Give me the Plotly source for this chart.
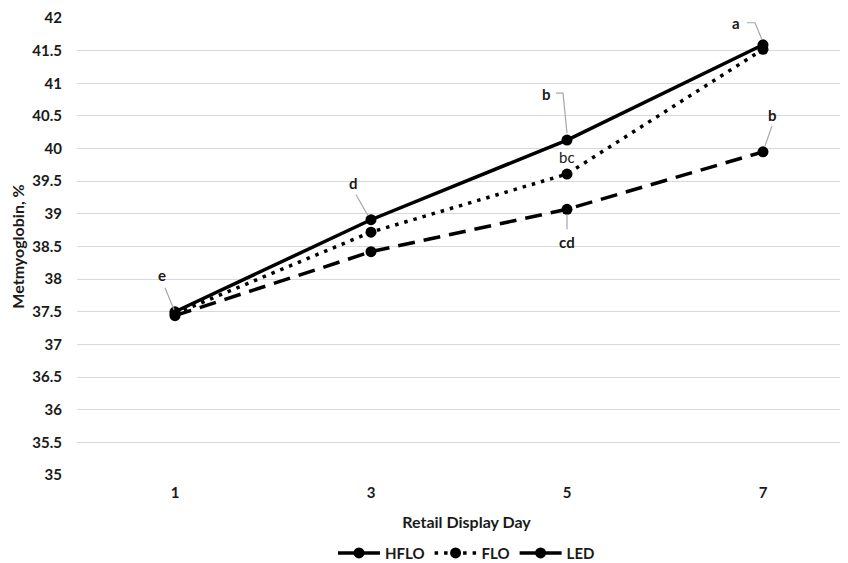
import plotly.graph_objects as go

days = [1, 3, 5, 7]
hflo = [37.44, 38.42, 39.07, 39.95]
flo = [37.47, 38.72, 39.61, 41.52]
led = [37.50, 38.91, 40.13, 41.59]
y_ticks = [35, 35.5, 36, 36.5, 37, 37.5, 38, 38.5, 39, 39.5, 40, 40.5, 41, 41.5, 42]

FONT = "Lato"
TXT = "#1a1a1a"
fig = go.Figure()
fig.add_trace(go.Scatter(x=days, y=hflo, name="<b>HFLO</b>", mode="lines+markers",
                         line=dict(color="black", width=3.5, dash="17px,9px"),
                         marker=dict(color="black", size=11)))
fig.add_trace(go.Scatter(x=days, y=flo, name="<b>FLO</b>", mode="lines+markers",
                         line=dict(color="black", width=3.5, dash="3.5px,6px"),
                         marker=dict(color="black", size=11)))
fig.add_trace(go.Scatter(x=days, y=led, name="<b>LED</b>", mode="lines+markers",
                         line=dict(color="black", width=3.5),
                         marker=dict(color="black", size=11)))

# labels: (series, index, text, dx, dy(up positive), bold, leader path in pixel offsets from point, y up)
labels = [
    (led, 0, "e", -13, 37, True, "M -10 24 L -1 2"),
    (led, 1, "d", -18, 37, True, "M -15 25 L -3 4"),
    (led, 2, "b", -21, 46, True, "M -11 47 L -4 47 L 0 7"),
    (flo, 2, "bc", 0, 17, False, None),
    (hflo, 2, "cd", 0, -33, True, "M 0 -5 L 0 -20"),
    (led, 3, "a", -27, 22, True, "M -16 22 L -8 22 L -1 5"),
    (hflo, 3, "b", 9, 37, True, "M 9 26 L 2 6"),
]
for series, i, txt, dx, dy, bold, path in labels:
    fig.add_annotation(x=days[i], y=series[i], xref="x", yref="y",
                       text=f"<b>{txt}</b>" if bold else txt, showarrow=False,
                       xshift=dx, yshift=dy,
                       font=dict(family=FONT, size=15, color=TXT))
    if path:
        fig.add_shape(type="path", xref="x", yref="y", xsizemode="pixel", ysizemode="pixel",
                      xanchor=days[i], yanchor=series[i], path=path,
                      line=dict(color="#a6a6a6", width=1.2))

fig.update_layout(
    width=848, height=563,
    margin=dict(l=69, r=0, t=10, b=96),
    plot_bgcolor="white", paper_bgcolor="white",
    font=dict(family=FONT, color=TXT),
    showlegend=True,
    legend=dict(orientation="h", x=0.5, xanchor="center", y=-0.171, yanchor="middle",
                font=dict(family=FONT, size=15, color=TXT), itemwidth=42,
                traceorder="normal"),
    xaxis=dict(range=[0, 7.949], tickvals=days, ticktext=[f"<b>{d}</b>" for d in days],
               showgrid=False, zeroline=False, showline=False, ticks="", automargin=False,
               ticklabelstandoff=7,
               tickfont=dict(family=FONT, size=15, color=TXT),
               title=dict(text="<b>Retail Display Day</b>", font=dict(family=FONT, size=16, color=TXT),
                          standoff=16)),
    yaxis=dict(range=[35, 42], tickvals=y_ticks, ticktext=[f"<b>{v:g}</b>" for v in y_ticks],
               showgrid=True, gridcolor="#d9d9d9", gridwidth=1, zeroline=False, showline=False,
               ticks="", ticklabelstandoff=14, automargin=False,
               tickfont=dict(family=FONT, size=15, color=TXT),
               title=dict(text="<b>Metmyoglobin, %</b>", font=dict(family=FONT, size=16, color=TXT),
                          standoff=6)),
)
fig.write_html("out.html")
